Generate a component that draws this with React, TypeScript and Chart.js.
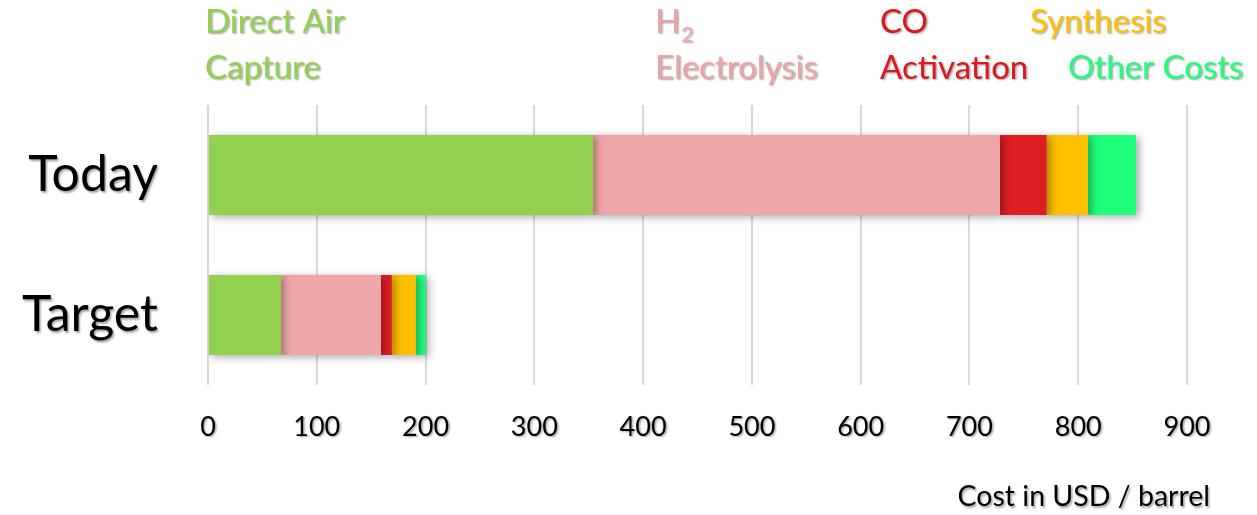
import React, { useEffect, useRef } from "react";
import { Chart, registerables } from "chart.js";

Chart.register(...registerables);

const categories = ["Today", "Target"];
const seriesNames = ["Direct Air Capture", "H2 Electrolysis", "CO Activation", "Synthesis", "Other Costs"];
const directAirCapture = [354, 67];
const h2Electrolysis = [374, 92];
const coActivation = [43, 10];
const synthesis = [38, 22];
const otherCosts = [44, 9];
const xTickValues = [0, 100, 200, 300, 400, 500, 600, 700, 800, 900];
const axisTitle = "Cost in USD / barrel";

const COLORS = ["#92d050", "#efa6a7", "#df1e24", "#ffc000", "#1eff7a"];
const TEXT_COLORS = ["#92d050", "#efa3a3", "#df161e", "#ffc000", "#1eff7a"];
const FONT = "Lato, 'Open Sans', sans-serif";

function setShadow(ctx: CanvasRenderingContext2D) {
  ctx.shadowColor = "rgba(0,0,0,0.35)";
  ctx.shadowBlur = 2;
  ctx.shadowOffsetX = 1.5;
  ctx.shadowOffsetY = 1.5;
}

const barShadow = {
  id: "barShadow",
  beforeDatasetsDraw(chart: any) {
    const ctx = chart.ctx;
    ctx.save();
    ctx.shadowColor = "rgba(0,0,0,0.35)";
    ctx.shadowBlur = 8;
    ctx.shadowOffsetX = 3;
    ctx.shadowOffsetY = 2;
  },
  afterDatasetsDraw(chart: any) {
    chart.ctx.restore();
  },
};

const textPlugin = {
  id: "texts",
  afterDraw(chart: any) {
    const ctx: CanvasRenderingContext2D = chart.ctx;
    const xs = chart.scales.x;
    const ys = chart.scales.y;
    ctx.save();
    setShadow(ctx);

    // x tick labels
    ctx.fillStyle = "#000";
    ctx.font = `27px ${FONT}`;
    ctx.textAlign = "center";
    ctx.textBaseline = "middle";
    xs.ticks.forEach((t: any, i: number) => {
      ctx.fillText(String(t.value), xs.getPixelForTick(i), 427);
    });

    // category labels
    ctx.font = `50px ${FONT}`;
    ctx.textAlign = "right";
    categories.forEach((c, i) => {
      ctx.fillText(c, 158, ys.getPixelForTick(i));
    });

    // axis title
    ctx.font = `28.5px ${FONT}`;
    ctx.textAlign = "right";
    ctx.fillText(axisTitle, 1210, 497);

    // header labels
    const hf = 33;
    ctx.font = `${hf}px ${FONT}`;
    ctx.textAlign = "left";
    const l1 = 22;
    const l2 = 68;
    ctx.fillStyle = TEXT_COLORS[0];
    ctx.fillText("Direct Air", 205, l1);
    ctx.fillText("Capture", 205, l2);

    ctx.fillStyle = TEXT_COLORS[1];
    ctx.fillText("H", 655, l1);
    const hw = ctx.measureText("H").width;
    ctx.font = `21px ${FONT}`;
    ctx.fillText("2", 655 + hw + 1, l1 + 13);
    ctx.font = `${hf}px ${FONT}`;
    ctx.fillText("Electrolysis", 655, l2);

    ctx.fillStyle = TEXT_COLORS[2];
    ctx.fillText("CO", 880, l1);
    ctx.fillText("Activation", 880, l2);

    ctx.fillStyle = TEXT_COLORS[3];
    ctx.fillText("Synthesis", 1030, l1);

    ctx.fillStyle = TEXT_COLORS[4];
    ctx.fillText("Other Costs", 1068, l2);

    ctx.restore();
  },
};

export default function App() {
  const ref = useRef<HTMLCanvasElement>(null);
  useEffect(() => {
    if (!ref.current) return;
    const series = [directAirCapture, h2Electrolysis, coActivation, synthesis, otherCosts];
    const chart = new Chart(ref.current, {
      type: "bar",
      data: {
        labels: categories,
        datasets: series.map((d, i) => ({
          label: seriesNames[i],
          data: d,
          backgroundColor: COLORS[i],
          borderWidth: 0,
          barPercentage: 0.8,
          categoryPercentage: 0.714,
        })),
      },
      options: {
        indexAxis: "y",
        responsive: false,
        animation: false,
        layout: { padding: { top: 105, right: 70, left: 0, bottom: 0 } },
        plugins: { legend: { display: false }, tooltip: { enabled: false }, title: { display: false } },
        scales: {
          x: {
            stacked: true,
            min: 0,
            max: 900,
            afterBuildTicks: (s: any) => {
              s.ticks = xTickValues.map((v) => ({ value: v }));
            },
            ticks: { display: false },
            grid: { color: "#d9d9d9", lineWidth: 2, drawTicks: false },
            border: { display: false },
            afterFit: (s: any) => {
              s.height = 130;
            },
          },
          y: {
            stacked: true,
            ticks: { display: false },
            grid: { display: false, drawTicks: false },
            border: { display: false },
            afterFit: (s: any) => {
              s.width = 208;
            },
          },
        },
      },
      plugins: [barShadow, textPlugin],
    } as any);
    return () => chart.destroy();
  }, []);
  return (
    <div style={{ position: "absolute", left: 0, top: 0, width: 1257, height: 515, background: "#fff" }}>
      <canvas ref={ref} width={1257} height={515} />
    </div>
  );
}
